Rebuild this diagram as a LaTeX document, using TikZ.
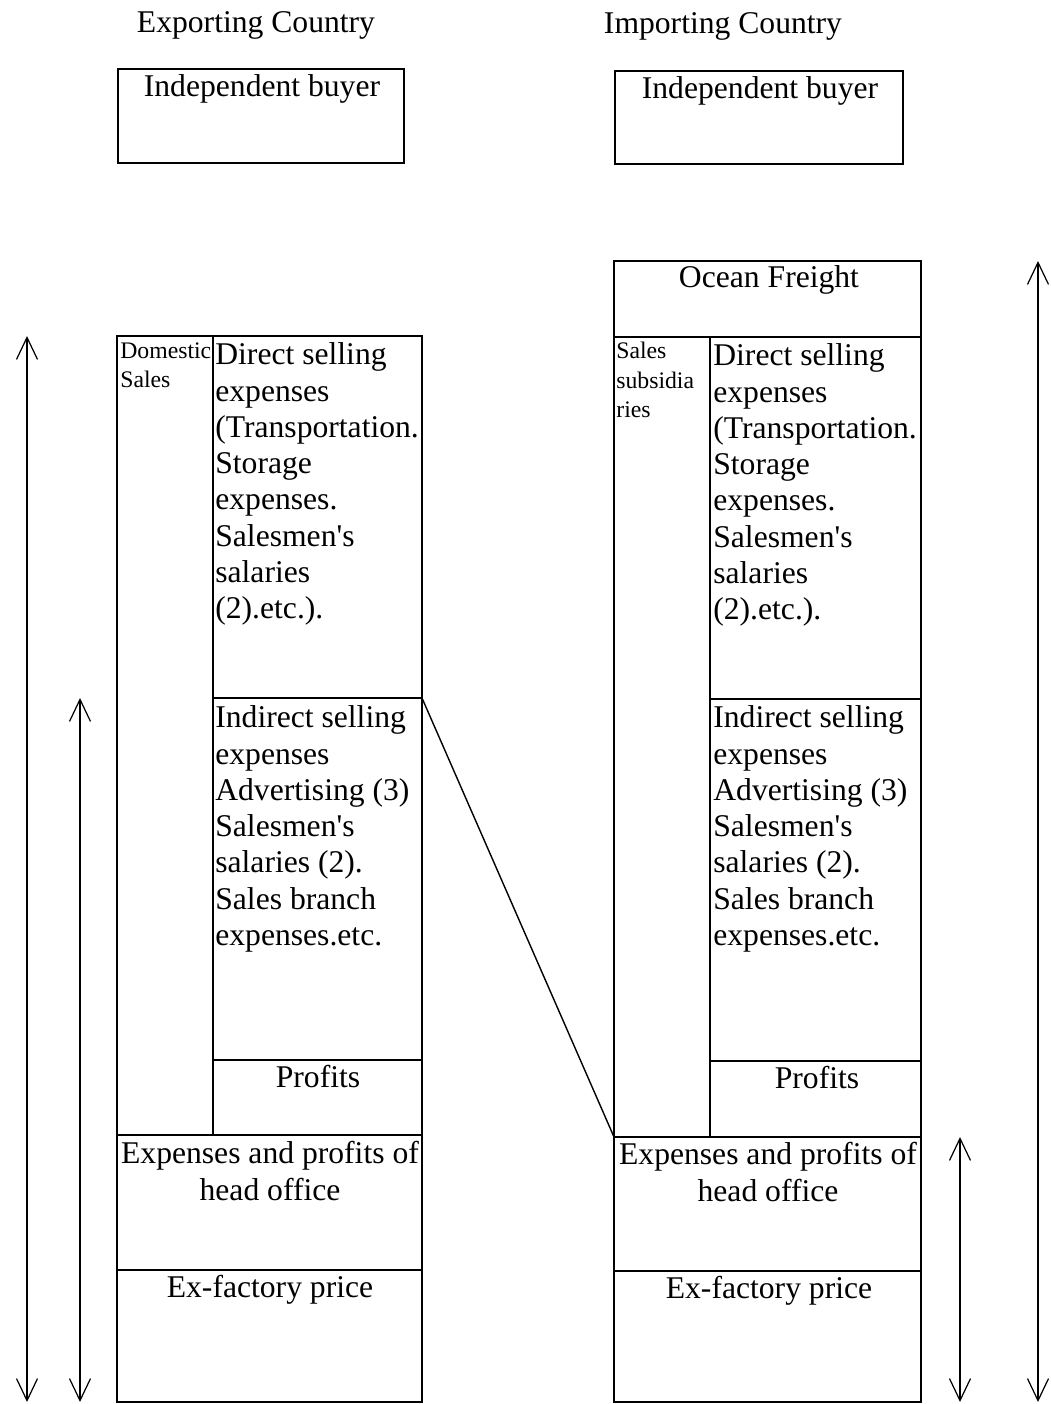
\documentclass[tikz,border=0pt]{standalone}
\usepackage{fontspec}
\setmainfont{Liberation Serif}
\usetikzlibrary{arrows.meta}

\begin{document}
\begin{tikzpicture}[x=0.02cm,y=-0.02cm]
	\tikzset{>={Straight Barb[length=4.4mm,width=4.2mm]}}
	\tikzset{
		box/.style={line width=0.9pt},
		big/.style={font=\fontsize{18}{20.64}\selectfont, inner sep=0pt},
		bigblock/.style={big, anchor=north west, align=left},
		small/.style={font=\fontsize{13.5}{16.8}\selectfont, inner sep=0pt, anchor=north west, align=left},
		dim/.style={<->, line width=0.7pt}
	}
	\useasboundingbox (0,0) rectangle (1051,1404);

	% exporting country
	\node[big,anchor=base] (exptitle) at (256,32) {Exporting Country};
	\draw[box] (118,69) rectangle (404,163);
	\node[big,anchor=base] (expbuyer) at (262,96) {Independent buyer};

	\draw[box] (117,336) rectangle (422,1402);
	\draw[box] (213,336) -- (213,1135);
	\draw[box] (213,698) -- (422,698);
	\draw[box] (213,1060) -- (422,1060);
	\draw[box] (117,1135) -- (422,1135);
	\draw[box] (117,1270) -- (422,1270);
	\coordinate (expind) at (422,698);

	\node[small] (expdom) at (120,342) {Domestic\\Sales};
	\node[bigblock] (expdirect) at (215,342.5) {Direct selling\\expenses\\(Transportation.\\Storage\\expenses.\\Salesmen\textquotesingle s\\salaries\\(2).etc.).};
	\node[bigblock] (expindirect) at (215,705.5) {Indirect selling\\expenses\\Advertising (3)\\Salesmen\textquotesingle s\\salaries (2).\\Sales branch\\expenses.etc.};
	\node[big,anchor=base] (expprofit) at (318,1087) {Profits};
	\node[big,anchor=base,align=center] (exphead) at (270,1200) {Expenses and profits of\\head office};
	\node[big,anchor=base] (expfactory) at (270,1297) {Ex-factory price};

	% importing country
	\node[big,anchor=base] (imptitle) at (723,33) {Importing Country};
	\draw[box] (615,71) rectangle (903,164);
	\node[big,anchor=base] (impbuyer) at (760,98) {Independent buyer};

	\draw[box] (614,261) rectangle (921,1402);
	\draw[box] (614,337) -- (921,337);
	\draw[box] (710,337) -- (710,1137);
	\draw[box] (710,699) -- (921,699);
	\draw[box] (710,1061) -- (921,1061);
	\draw[box] (614,1137) -- (921,1137);
	\draw[box] (614,1271) -- (921,1271);
	\coordinate (imphead) at (614,1137);

	\node[big,anchor=base] (impfreight) at (769,287) {Ocean Freight};
	\node[small] (impsub) at (616,342) {Sales\\subsidia\\ries};
	\node[bigblock] (impdirect) at (713,343.5) {Direct selling\\expenses\\(Transportation.\\Storage\\expenses.\\Salesmen\textquotesingle s\\salaries\\(2).etc.).};
	\node[bigblock] (impindirect) at (713,705.5) {Indirect selling\\expenses\\Advertising (3)\\Salesmen\textquotesingle s\\salaries (2).\\Sales branch\\expenses.etc.};
	\node[big,anchor=base] (impprofit) at (817,1088) {Profits};
	\node[big,anchor=base,align=center] (imphoff) at (768,1201) {Expenses and profits of\\head office};
	\node[big,anchor=base] (impfactory) at (769,1298) {Ex-factory price};

	\draw[line width=0.8pt] (expind) -- (imphead);

	% price ranges
	\coordinate (a1) at (27,336);   \coordinate (a2) at (27,1402);
	\coordinate (b1) at (80,698);   \coordinate (b2) at (80,1402);
	\coordinate (c1) at (960,1137); \coordinate (c2) at (960,1402);
	\coordinate (d1) at (1038,261); \coordinate (d2) at (1038,1402);
	\draw[dim] (a1) -- (a2);
	\draw[dim] (b1) -- (b2);
	\draw[dim] (c1) -- (c2);
	\draw[dim] (d1) -- (d2);
\end{tikzpicture}
\end{document}
